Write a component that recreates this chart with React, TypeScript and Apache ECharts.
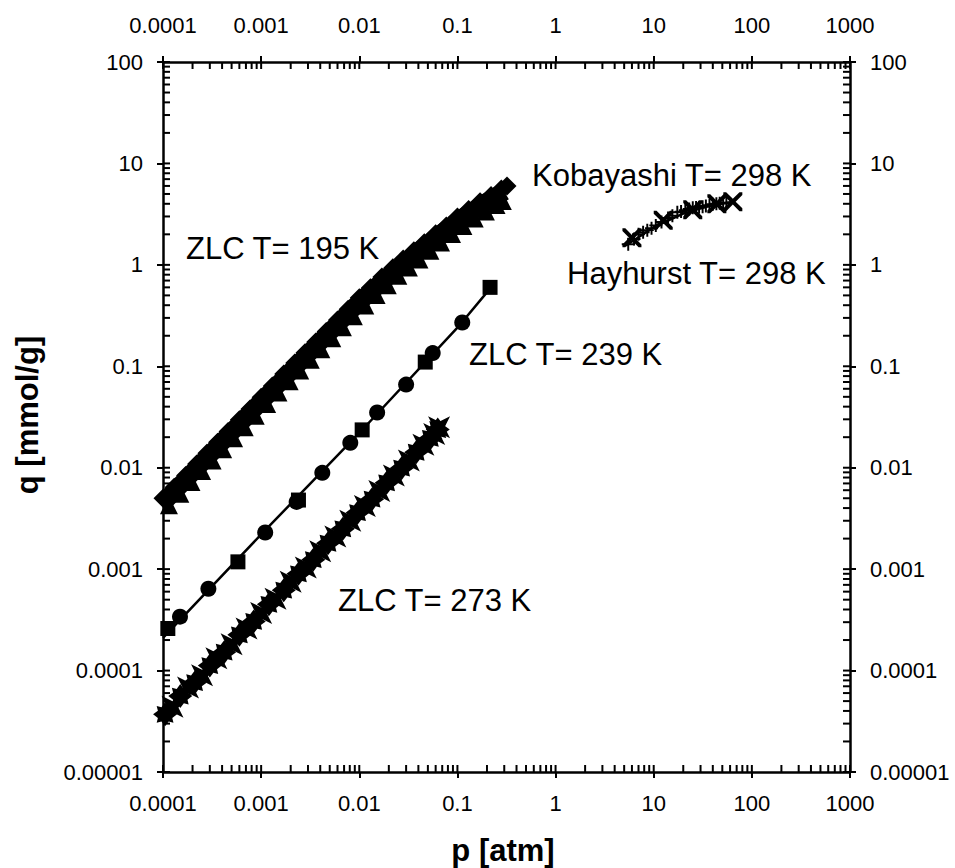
import React, { useEffect, useRef } from "react";
import * as echarts from "echarts";

// ---------- tick labels ----------
const xTickLabels = ["0.0001", "0.001", "0.01", "0.1", "1", "10", "100", "1000"];
const yTickLabels = ["0.00001", "0.0001", "0.001", "0.01", "0.1", "1", "10", "100"];

// ---------- ZLC T = 195 K (diamonds on upper side, triangles on lower side, fitted curve) ----------
const x195d = [1.0e-4, 1.3e-4, 1.7e-4, 2.2e-4, 2.8e-4, 3.6e-4, 4.6e-4, 6.0e-4, 7.7e-4, 1.0e-3, 1.3e-3, 1.7e-3, 2.2e-3, 2.8e-3, 3.6e-3, 4.6e-3, 6.0e-3, 7.7e-3, 0.010, 0.013, 0.017, 0.022, 0.028, 0.036, 0.046, 0.060, 0.077, 0.10, 0.13, 0.17, 0.22, 0.28, 0.32];
const y195d = [0.0050, 0.0064, 0.0084, 0.0109, 0.0139, 0.0178, 0.0228, 0.0297, 0.038, 0.0495, 0.064, 0.084, 0.108, 0.136, 0.174, 0.22, 0.286, 0.366, 0.473, 0.594, 0.76, 0.935, 1.14, 1.38, 1.65, 2.03, 2.42, 2.97, 3.52, 4.18, 4.84, 5.6, 6.0];
const x195t = [1.15e-4, 1.5e-4, 1.95e-4, 2.5e-4, 3.2e-4, 4.1e-4, 5.3e-4, 6.8e-4, 8.8e-4, 1.15e-3, 1.5e-3, 1.95e-3, 2.5e-3, 3.2e-3, 4.1e-3, 5.3e-3, 6.8e-3, 8.8e-3, 0.0115, 0.015, 0.0195, 0.025, 0.032, 0.041, 0.053, 0.068, 0.088, 0.115, 0.15, 0.195, 0.25, 0.29];
const y195t = [0.00426, 0.00554, 0.00722, 0.00927, 0.0118, 0.0152, 0.0195, 0.0251, 0.0325, 0.0425, 0.0551, 0.0713, 0.091, 0.116, 0.147, 0.189, 0.242, 0.312, 0.398, 0.504, 0.631, 0.779, 0.943, 1.13, 1.38, 1.66, 2.01, 2.42, 2.87, 3.36, 3.9, 4.26];
const x195fit = [1e-4, 1e-3, 0.01, 0.022, 0.04, 0.06, 0.1, 0.15, 0.2, 0.3];
const y195fit = [0.0045, 0.045, 0.43, 0.85, 1.35, 1.85, 2.7, 3.5, 4.2, 5.3];

// ---------- ZLC T = 239 K ----------
const x239sq = [1.12e-4, 5.8e-4, 2.4e-3, 0.0107, 0.047, 0.215];
const y239sq = [2.6e-4, 1.18e-3, 4.8e-3, 0.0236, 0.11, 0.6];
const x239ci = [1.49e-4, 2.9e-4, 1.1e-3, 2.3e-3, 4.2e-3, 8.1e-3, 0.0152, 0.030, 0.056, 0.112];
const y239ci = [3.4e-4, 6.4e-4, 2.3e-3, 4.6e-3, 8.9e-3, 0.0176, 0.035, 0.066, 0.135, 0.27];
const x239fit = [1e-4, 1e-3, 0.01, 0.1, 0.22];
const y239fit = [2.1e-4, 2.2e-3, 0.022, 0.24, 0.6];

// ---------- ZLC T = 273 K ----------
const x273a = [1.05e-4, 1.5e-4, 2.1e-4, 3.0e-4, 4.2e-4, 6.0e-4, 8.4e-4, 1.2e-3, 1.7e-3, 2.4e-3, 3.4e-3, 4.8e-3, 6.8e-3, 9.6e-3, 0.0135, 0.019, 0.027, 0.038, 0.053, 0.063];
const y273a = [3.7e-5, 5.6e-5, 7.6e-5, 1.12e-4, 1.52e-4, 2.25e-4, 3.05e-4, 4.5e-4, 6.2e-4, 9.0e-4, 1.24e-3, 1.8e-3, 2.5e-3, 3.6e-3, 4.9e-3, 7.1e-3, 9.9e-3, 0.0142, 0.0195, 0.0238];
const x273b = [1.25e-4, 1.8e-4, 2.5e-4, 3.5e-4, 5.0e-4, 7.1e-4, 1.0e-3, 1.4e-3, 2.0e-3, 2.85e-3, 4.0e-3, 5.7e-3, 8.1e-3, 0.0114, 0.016, 0.0225, 0.032, 0.045, 0.058, 0.065];
const y273b = [4.4e-5, 6.8e-5, 9.0e-5, 1.32e-4, 1.82e-4, 2.6e-4, 3.7e-4, 5.1e-4, 7.5e-4, 1.04e-3, 1.5e-3, 2.1e-3, 3.0e-3, 4.2e-3, 5.9e-3, 8.4e-3, 0.0118, 0.0168, 0.0215, 0.025];
const x273fit = [1e-4, 0.065];
const y273fit = [3.1e-5, 0.0245];

// ---------- T = 298 K (Kobayashi, Hayhurst) ----------
const xKob = [6.0, 12.5, 25, 44, 64];
const yKob = [1.85, 2.75, 3.5, 4.0, 4.2];
const xHay = [5.5, 6.3, 7.0, 7.8, 8.6, 9.5, 10.5, 12, 14, 15.5, 17.4, 19, 21, 23, 25, 27, 29, 31.5, 34, 37, 40, 43.5, 47, 51, 55];
const yHay = [1.6, 1.8, 2.0, 2.1, 2.2, 2.3, 2.45, 2.65, 2.9, 3.05, 3.3, 3.35, 3.45, 3.55, 3.65, 3.68, 3.7, 3.75, 3.8, 3.88, 3.95, 4.0, 4.05, 4.08, 4.1];
const x298fit = [5.2, 10, 20, 40, 65];
const y298fit = [1.55, 2.35, 3.2, 3.9, 4.2];

const zip = (xs: number[], ys: number[]) => xs.map((x, i) => [x, ys[i]]);

const STAR8 = "path://M0,-10 L3,-6 L7,-7 L6,-3 L10,0 L6,3 L7,7 L3,6 L0,10 L-3,6 L-7,7 L-6,3 L-10,0 L-6,-3 L-7,-7 L-3,-6 Z";
const STAR4X = "path://M-10,-10 L0,-5 L10,-10 L5,0 L10,10 L0,5 L-10,10 L-5,0 Z";
const XMARK = "path://M0,0 L3,0 L10,7 L17,0 L20,0 L20,3 L13,10 L20,17 L20,20 L17,20 L10,13 L3,20 L0,20 L0,17 L7,10 L0,3 Z";
const PLUS = "path://M8.5,0 L11.5,0 L11.5,8.5 L20,8.5 L20,11.5 L11.5,11.5 L11.5,20 L8.5,20 L8.5,11.5 L0,11.5 L0,8.5 L8.5,8.5 Z";

const FONT = '"Liberation Sans", Arial, sans-serif';
const BLACK = { color: "#000", opacity: 1 };

export default function App() {
  const ref = useRef<HTMLDivElement>(null);

  useEffect(() => {
    document.body.style.margin = "0";
    const chart = echarts.init(ref.current!, null, { renderer: "svg" });

    // inner tick marks: decade (major) and 2..9 (minor) positions
    const xTickVals: number[] = [];
    for (let e = -4; e <= 3; e++) {
      for (let m = 1; m <= 9; m++) {
        if (e === 3 && m > 1) break;
        xTickVals.push(m * Math.pow(10, e));
      }
    }
    const yTickVals: number[] = [];
    for (let e = -5; e <= 2; e++) {
      for (let m = 1; m <= 9; m++) {
        if (e === 2 && m > 1) break;
        yTickVals.push(m * Math.pow(10, e));
      }
    }
    const TL = 7;
    const tickSeries = (data: number[][], size: number[], offset: number[]) => ({
      type: "scatter",
      silent: true,
      clip: false,
      z: 20,
      data,
      symbol: "rect",
      symbolSize: size,
      symbolOffset: offset,
      itemStyle: BLACK,
    });
    const scatter = (data: number[][], symbol: string, size: number) => ({
      type: "scatter",
      clip: false,
      data,
      symbol,
      symbolSize: size,
      itemStyle: BLACK,
    });
    const fitLine = (data: number[][], width: number) => ({
      type: "line",
      data,
      showSymbol: false,
      symbol: "none",
      lineStyle: { color: "#000", width, opacity: 1 },
    });

    const axisCommon = {
      type: "log",
      logBase: 10,
      splitNumber: 7,
      splitLine: { show: false },
      axisLine: { show: true, lineStyle: { color: "#000", width: 2.5 } },
      axisTick: { show: true, inside: false, length: 6, lineStyle: { color: "#000", width: 2 } },
      minorTick: { show: false },
    };
    const labelCommon = {
      show: true,
      color: "#000",
      fontSize: 22,
      fontFamily: FONT,
      margin: 20,
      showMinLabel: true,
      showMaxLabel: true,
    };
    const xFmt = (v: number) => xTickLabels[Math.round(Math.log10(v)) + 4];
    const yFmt = (v: number) => yTickLabels[Math.round(Math.log10(v)) + 5];
    const txt = (text: string, x: number, y: number, font: string, align = "left") => ({
      type: "text",
      x,
      y,
      style: { text, font, fill: "#000", textAlign: align, textVerticalAlign: "middle", align, verticalAlign: "middle" },
    });

    const option: any = {
      animation: false,
      backgroundColor: "#fff",
      grid: { left: 163, right: 105, top: 62, bottom: 96, containLabel: false },
      xAxis: [
        { ...axisCommon, position: "bottom", min: 1e-4, max: 1000, axisLabel: { ...labelCommon, formatter: xFmt } },
        { ...axisCommon, position: "top", min: 1e-4, max: 1000, axisLabel: { ...labelCommon, margin: 26, formatter: xFmt } },
      ],
      yAxis: [
        { ...axisCommon, position: "left", min: 1e-5, max: 100, axisLabel: { ...labelCommon, formatter: yFmt } },
        { ...axisCommon, position: "right", min: 1e-5, max: 100, axisLabel: { ...labelCommon, formatter: yFmt } },
      ],
      graphic: [
        txt("ZLC T= 195 K", 186, 248, `31px ${FONT}`),
        txt("ZLC T= 239 K", 469, 354, `31px ${FONT}`),
        txt("ZLC T= 273 K", 338, 600, `31px ${FONT}`),
        txt("Kobayashi T= 298 K", 532, 175, `31px ${FONT}`),
        txt("Hayhurst T= 298 K", 567, 273, `31px ${FONT}`),
        txt("p [atm]", 503, 850, `bold 31px ${FONT}`, "center"),
        {
          type: "text",
          x: 27,
          y: 415,
          rotation: Math.PI / 2,
          style: { text: "q [mmol/g]", font: `bold 31px ${FONT}`, fill: "#000", textAlign: "center", textVerticalAlign: "middle", align: "center", verticalAlign: "middle" },
        },
      ],
      series: [
        // inner ticks, placed through the axes' own scales
        tickSeries(xTickVals.map((v) => [v, 1e-5]), [2, TL], [0, -TL / 2]),
        tickSeries(xTickVals.map((v) => [v, 100]), [2, TL], [0, TL / 2]),
        tickSeries(yTickVals.map((v) => [1e-4, v]), [TL, 2], [TL / 2, 0]),
        tickSeries(yTickVals.map((v) => [1000, v]), [TL, 2], [-TL / 2, 0]),
        // 195 K
        fitLine(zip(x195fit, y195fit), 18),
        scatter(zip(x195t, y195t), "triangle", 18),
        scatter(zip(x195d, y195d), "diamond", 19),
        // 239 K
        fitLine(zip(x239fit, y239fit), 2.5),
        scatter(zip(x239sq, y239sq), "rect", 15),
        scatter(zip(x239ci, y239ci), "circle", 16),
        // 273 K
        fitLine(zip(x273fit, y273fit), 2.5),
        scatter(zip(x273a, y273a), STAR8, 24),
        scatter(zip(x273b, y273b), STAR4X, 22),
        // 298 K
        fitLine(zip(x298fit, y298fit), 2.5),
        scatter(zip(xHay, yHay), PLUS, 13),
        scatter(zip(xKob, yKob), XMARK, 19),
      ],
    };
    chart.setOption(option);
    return () => chart.dispose();
  }, []);

  return <div ref={ref} style={{ width: 955, height: 868 }} />;
}
